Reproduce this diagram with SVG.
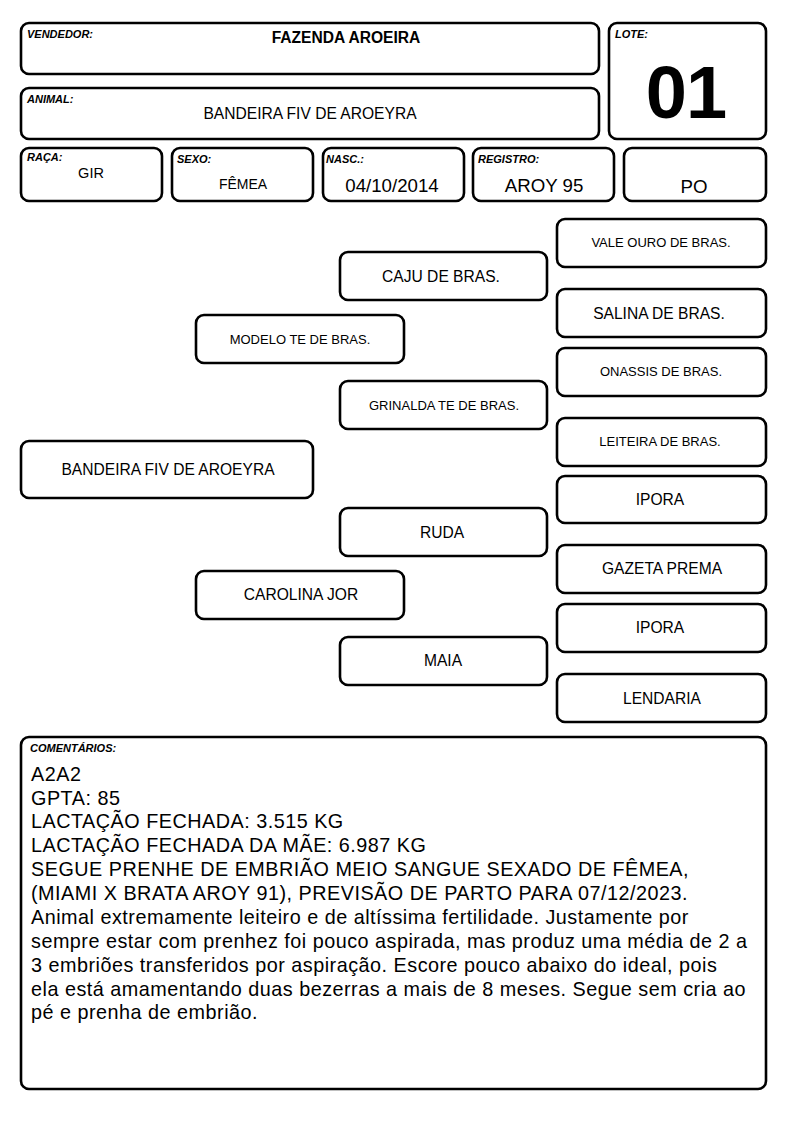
<svg xmlns="http://www.w3.org/2000/svg" width="794" height="1123" viewBox="0 0 794 1123">
<style>
.b{fill:#fff;stroke:#000;stroke-width:2.6}
text{font-family:"Liberation Sans",Arial,sans-serif;fill:#000}
.lb{font-size:11px;font-weight:bold;font-style:italic}
.t{font-size:15.6px;text-anchor:middle}
.s{font-size:13px;text-anchor:middle}
.m{font-size:18.7px;text-anchor:middle}
.c{font-size:19.8px;letter-spacing:0.5px}
</style>
<rect width="794" height="1123" fill="#fff"/>
<g id="vendedor"><rect class="b" x="21" y="23" width="578" height="51" rx="8"/><text class="lb" x="27" y="38">VENDEDOR:</text><text class="t" x="346" y="43" font-weight="bold">FAZENDA AROEIRA</text></g>
<g id="lote"><rect class="b" x="609" y="23" width="157" height="116" rx="8"/><text class="lb" x="615" y="38">LOTE:</text><text x="686" y="118" font-size="74" font-weight="bold" text-anchor="middle" letter-spacing="-1">01</text></g>
<g id="animal"><rect class="b" x="21" y="88" width="578" height="51" rx="8"/><text class="lb" x="27" y="103">ANIMAL:</text><text class="t" x="310" y="119">BANDEIRA FIV DE AROEYRA</text></g>
<g id="raca"><rect class="b" x="21" y="148" width="141" height="53" rx="8"/><text class="lb" x="27" y="161">RAÇA:</text><text x="91" y="178" font-size="14.5" text-anchor="middle">GIR</text></g>
<g id="sexo"><rect class="b" x="172" y="148" width="141" height="53" rx="8"/><text class="lb" x="177" y="163">SEXO:</text><text x="243" y="189" font-size="14" text-anchor="middle">FÊMEA</text></g>
<g id="nasc"><rect class="b" x="323" y="148" width="141" height="53" rx="8"/><text class="lb" x="326" y="163">NASC.:</text><text class="m" x="392" y="192">04/10/2014</text></g>
<g id="registro"><rect class="b" x="473" y="148" width="141" height="53" rx="8"/><text class="lb" x="478" y="163">REGISTRO:</text><text class="m" x="544" y="192">AROY 95</text></g>
<g id="po"><rect class="b" x="624" y="148" width="142" height="53" rx="8"/><text class="m" x="694" y="193">PO</text></g>
<g id="connectors"></g>
<g id="p-bandeira"><rect class="b" x="21" y="441" width="292" height="57" rx="8"/><text class="t" x="168" y="475">BANDEIRA FIV DE AROEYRA</text></g>
<g id="p-modelo"><rect class="b" x="196" y="315" width="208" height="48" rx="8"/><text class="s" x="300" y="344">MODELO TE DE BRAS.</text></g>
<g id="p-carolina"><rect class="b" x="196" y="571" width="208" height="48" rx="8"/><text class="t" x="301" y="600">CAROLINA JOR</text></g>
<g id="p-caju"><rect class="b" x="340" y="252" width="207" height="48" rx="8"/><text class="t" x="441" y="282">CAJU DE BRAS.</text></g>
<g id="p-grinalda"><rect class="b" x="340" y="381" width="207" height="48" rx="8"/><text class="s" x="444" y="410">GRINALDA TE DE BRAS.</text></g>
<g id="p-ruda"><rect class="b" x="340" y="508" width="207" height="48" rx="8"/><text class="t" x="442" y="538">RUDA</text></g>
<g id="p-maia"><rect class="b" x="340" y="637" width="207" height="48" rx="8"/><text class="t" x="443" y="666">MAIA</text></g>
<g id="p-valeouro"><rect class="b" x="557" y="219" width="209" height="48" rx="8"/><text class="s" x="661" y="247">VALE OURO DE BRAS.</text></g>
<g id="p-salina"><rect class="b" x="557" y="289" width="209" height="48" rx="8"/><text class="t" x="659" y="319">SALINA DE BRAS.</text></g>
<g id="p-onassis"><rect class="b" x="557" y="348" width="209" height="48" rx="8"/><text class="s" x="661" y="376">ONASSIS DE BRAS.</text></g>
<g id="p-leiteira"><rect class="b" x="557" y="418" width="209" height="48" rx="8"/><text class="s" x="660" y="446">LEITEIRA DE BRAS.</text></g>
<g id="p-ipora1"><rect class="b" x="557" y="476" width="209" height="47" rx="8"/><text class="t" x="660" y="505">IPORA</text></g>
<g id="p-gazeta"><rect class="b" x="557" y="545" width="209" height="48" rx="8"/><text class="t" x="662" y="574">GAZETA PREMA</text></g>
<g id="p-ipora2"><rect class="b" x="557" y="604" width="209" height="48" rx="8"/><text class="t" x="660" y="633">IPORA</text></g>
<g id="p-lendaria"><rect class="b" x="557" y="674" width="209" height="48" rx="8"/><text class="t" x="662" y="704">LENDARIA</text></g>
<g id="comentarios"><rect class="b" x="21" y="737" width="745" height="352" rx="8"/><text class="lb" x="30" y="752">COMENTÁRIOS:</text>
<text class="c" x="31" y="781">A2A2</text>
<text class="c" x="31" y="805">GPTA: 85</text>
<text class="c" x="31" y="828">LACTAÇÃO FECHADA: 3.515 KG</text>
<text class="c" x="31" y="852">LACTAÇÃO FECHADA DA MÃE: 6.987 KG</text>
<text class="c" x="31" y="876">SEGUE PRENHE DE EMBRIÃO MEIO SANGUE SEXADO DE FÊMEA,</text>
<text class="c" x="31" y="900">(MIAMI X BRATA AROY 91), PREVISÃO DE PARTO PARA 07/12/2023.</text>
<text class="c" x="31" y="924">Animal extremamente leiteiro e de altíssima fertilidade. Justamente por</text>
<text class="c" x="31" y="948">sempre estar com prenhez foi pouco aspirada, mas produz uma média de 2 a</text>
<text class="c" x="31" y="972">3 embriões transferidos por aspiração. Escore pouco abaixo do ideal, pois</text>
<text class="c" x="31" y="996">ela está amamentando duas bezerras a mais de 8 meses. Segue sem cria ao</text>
<text class="c" x="31" y="1019">pé e prenha de embrião.</text>
</g>
</svg>
